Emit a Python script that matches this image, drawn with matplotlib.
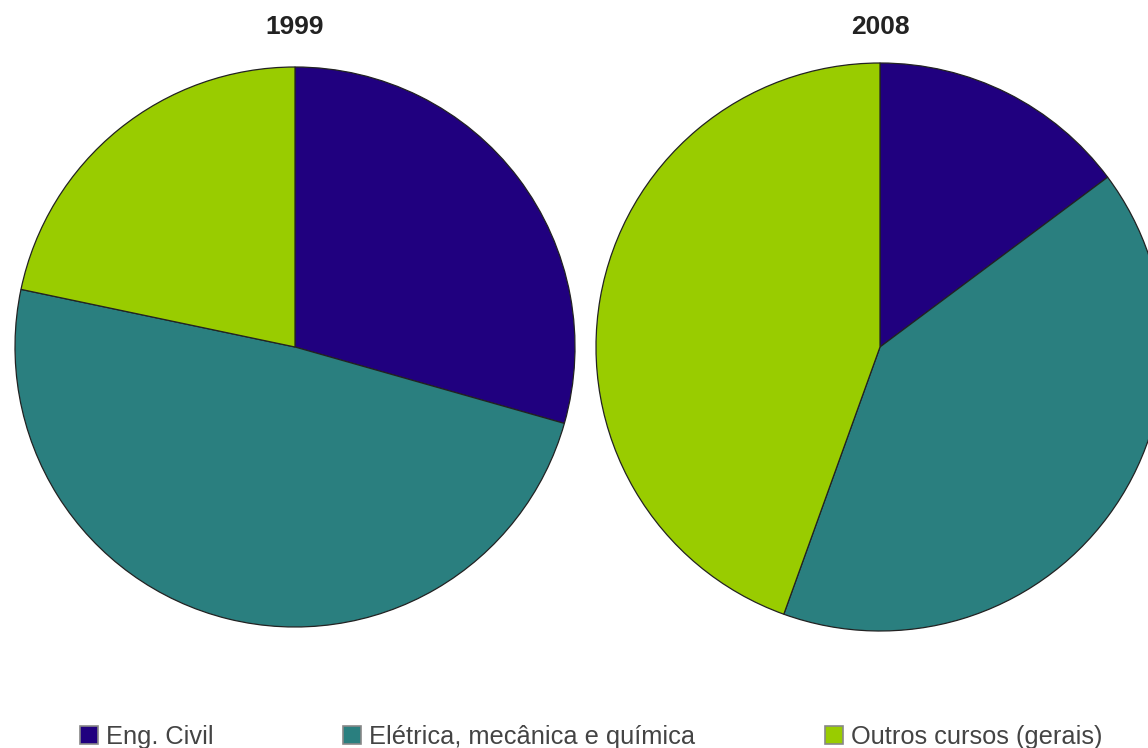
import matplotlib.pyplot as plt
from matplotlib.patches import Patch

plt.rcParams['font.family'] = ['Liberation Sans', 'DejaVu Sans']

# Shares by course group
categories = ['Eng. Civil', 'Elétrica, mecânica e química', 'Outros cursos (gerais)']
years = ['1999', '2008']
shares_1999 = [29.4, 48.9, 21.7]
shares_2008 = [14.8, 40.7, 44.5]
colors = ['#20007F', '#2A7F7F', '#99CC00']

W, H = 1148, 748
fig = plt.figure(figsize=(W / 100, H / 100), dpi=100)
ax = fig.add_axes([0, 0, 1, 1])

wedge_style = dict(edgecolor='#222222', linewidth=0.9)

# left pie (1999), right pie (2008) - the right one runs off the edge
for shares, cx, r in [(shares_1999, 295, 280), (shares_2008, 880, 284)]:
    ax.pie(shares, colors=colors, startangle=90, counterclock=False,
           center=(cx, H - 347), radius=r, wedgeprops=wedge_style,
           frame=True)

ax.text(295, H - 27, years[0], ha='center', va='center',
        fontsize=19, fontweight='bold', color='#222222')
ax.text(880, H - 27, years[1], ha='center', va='center',
        fontsize=19, fontweight='bold', color='#222222')

ax.set_xlim(0, W)
ax.set_ylim(0, H)
ax.set_aspect('equal')
ax.axis('off')

handles = [Patch(facecolor=c, edgecolor='#888888', linewidth=1.2) for c in colors]
fig.legend(handles, categories, ncol=3, loc='center left',
           bbox_to_anchor=(80 / W, (H - 737) / H), frameon=False,
           fontsize=18.3, labelcolor='#444444',
           handlelength=0.72, handleheight=0.72, handletextpad=0.3,
           columnspacing=5.1, borderpad=0, borderaxespad=0)

fig.savefig('out.png', dpi=100)
